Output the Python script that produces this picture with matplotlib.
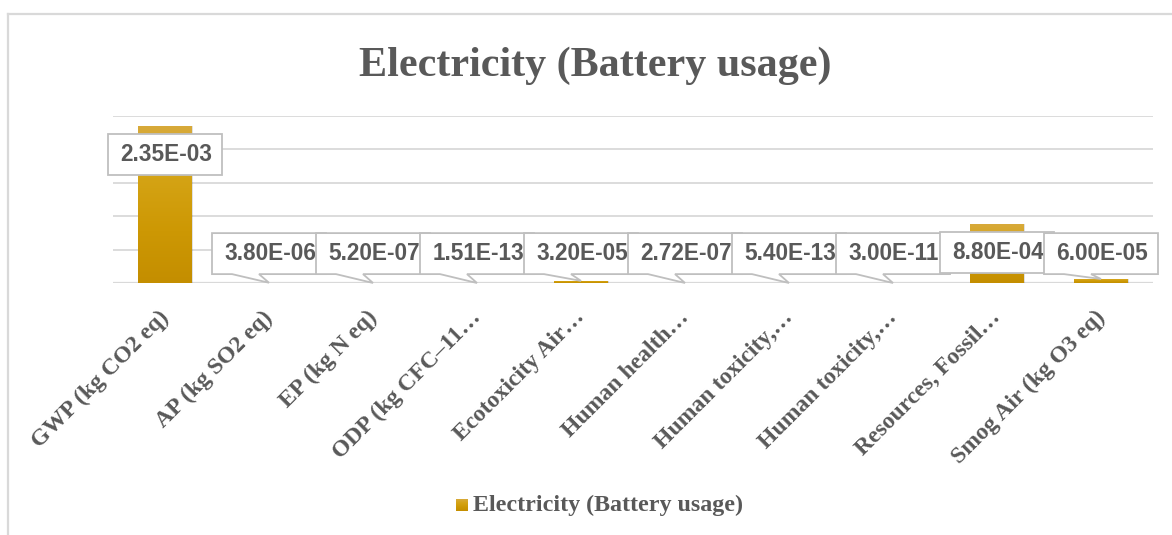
import numpy as np
import matplotlib
matplotlib.use("Agg")
import matplotlib.pyplot as plt
from matplotlib.patches import Polygon, Rectangle
from matplotlib.colors import LinearSegmentedColormap
from matplotlib.transforms import IdentityTransform, ScaledTranslation

# ---- data -------------------------------------------------------------
title = "Electricity (Battery usage)"
series_name = "Electricity (Battery usage)"
categories = [
    "GWP (kg CO2 eq)",
    "AP (kg SO2 eq)",
    "EP (kg N eq)",
    "ODP (kg CFC\u201311\u2026",
    "Ecotoxicity Air\u2026",
    "Human health\u2026",
    "Human toxicity,\u2026",
    "Human toxicity,\u2026",
    "Resources, Fossil\u2026",
    "Smog Air (kg O3 eq)",
]
values = [2.35e-03, 3.80e-06, 5.20e-07, 1.51e-13, 3.20e-05,
          2.72e-07, 5.40e-13, 3.00e-11, 8.80e-04, 6.00e-05]
value_labels = ["2.35E-03", "3.80E-06", "5.20E-07", "1.51E-13", "3.20E-05",
                "2.72E-07", "5.40E-13", "3.00E-11", "8.80E-04", "6.00E-05"]

# ---- style ------------------------------------------------------------
TEXT = "#595959"
GRID = "#D9D9D9"
SERIF = ["Liberation Serif", "DejaVu Serif"]
SANS = ["Liberation Sans", "DejaVu Sans"]
gold = LinearSegmentedColormap.from_list(
    "gold", ["#C48E00", "#CD9804", "#D4A314", "#D8AA3A"])

W, H = 1172, 535
fig = plt.figure(figsize=(W / 100, H / 100), dpi=100)
fig.patch.set_facecolor("white")

# chart frame
fig.add_artist(plt.Line2D([7.5 / W, 7.5 / W], [0, 1 - 13.5 / H],
                          color=GRID, lw=1.6))
fig.add_artist(plt.Line2D([7.5 / W, 1], [1 - 13.5 / H, 1 - 13.5 / H],
                          color=GRID, lw=1.6))

ax = fig.add_axes([113 / W, 1 - 283 / H, 1040 / W, 167 / H])
n = len(categories)
x = np.arange(n)
ax.set_xlim(-0.5, n - 0.5)
ax.set_ylim(0, 0.0025)
ax.set_yticks(np.arange(0, 0.0026, 0.0005))
ax.yaxis.grid(True, color=GRID, lw=1.3)
ax.set_axisbelow(True)
for s in ax.spines.values():
    s.set_visible(False)
ax.tick_params(axis="both", length=0)
ax.set_yticklabels([])
ax.axhline(0, color=GRID, lw=1.6, zorder=1)

bars = ax.bar(x, values, width=0.51, color="#CD9804", zorder=2)
grad = np.linspace(0, 1, 256).reshape(-1, 1)
for b in bars:
    bx, by, bw, bh = b.get_x(), b.get_y(), b.get_width(), b.get_height()
    if bh <= 0:
        continue
    # soft shadow
    ax.add_patch(Rectangle((bx + 0.012, by), bw, bh, color="#000000",
                           alpha=0.12, lw=0, zorder=1.5))
    im = ax.imshow(grad, cmap=gold, origin="lower", aspect="auto",
                   extent=(bx, bx + bw, by, by + bh), zorder=3)
    im.set_clip_path(b)

ax.set_xticks(x)
ax.set_xticklabels(categories, rotation=45, ha="right", va="top",
                   rotation_mode="anchor", fontfamily=SERIF,
                   fontweight="bold", fontsize=17, color=TEXT)
ax.tick_params(axis="x", pad=10)
shift = ScaledTranslation(-7 / 100, -10 / 100, fig.dpi_scale_trans)
for lbl in ax.get_xticklabels():
    lbl.set_transform(lbl.get_transform() + shift)

# ---- data callouts -----------------------------------------------------
fig.canvas.draw()
to_disp = ax.transData.transform
box_w, box_h = 114, 41
for i, (v, lab) in enumerate(zip(values, value_labels)):
    yc = max(v - 0.00043, 0.00044)
    cx, cy = to_disp((x[i], yc))
    _, tip_y = to_disp((x[i], v))
    L, R = cx - box_w / 2, cx + box_w / 2
    T, B = cy + box_h / 2, cy - box_h / 2
    if tip_y < B - 2:
        verts = [(L, T), (R, T), (R, B), (cx - 10, B), (cx, tip_y),
                 (cx - 37, B), (L, B)]
    else:
        verts = [(L, T), (R, T), (R, B), (L, B)]
    poly = Polygon(verts, closed=True, facecolor="white", edgecolor="#BFBFBF",
                   lw=1.3, transform=IdentityTransform(), zorder=10 + 2 * i)
    fig.add_artist(poly)
    fig.text((cx + 1) / W, cy / H, lab, ha="center", va="center",
             fontfamily=SANS, fontweight="bold", fontsize=16.3, color=TEXT,
             zorder=11 + 2 * i)

# ---- title and legend --------------------------------------------------
fig.text(595 / W, 1 - 66 / H, title, ha="center", va="center",
         fontfamily=SERIF, fontweight="bold", fontsize=30.3, color=TEXT)

lax = fig.add_axes([456 / W, 1 - 511 / H, 12 / W, 12 / H])
lax.imshow(grad, cmap=gold, origin="lower", aspect="auto",
           extent=(0, 1, 0, 1))
lax.set_axis_off()
fig.text(473 / W, 1 - 505 / H, series_name, ha="left", va="center",
         fontfamily=SERIF, fontweight="bold", fontsize=17.3, color=TEXT)

fig.savefig("out.png", dpi=100, facecolor="white")
